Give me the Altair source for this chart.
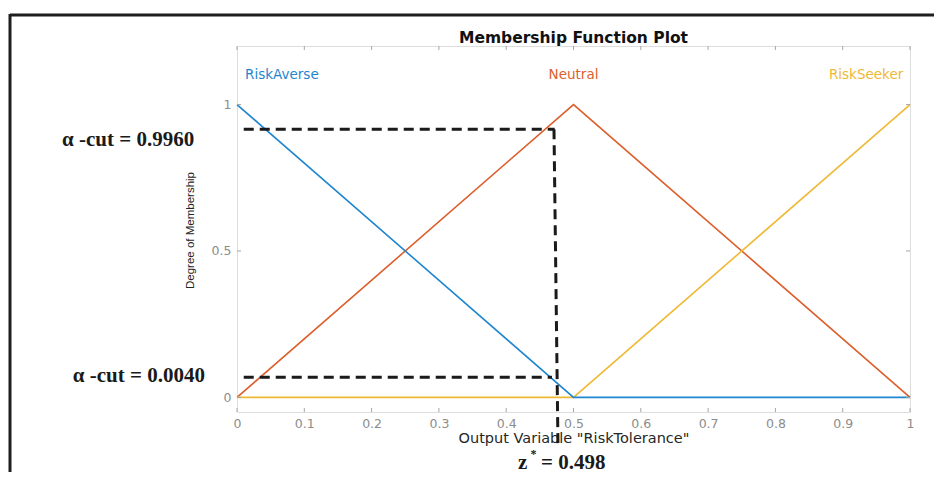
import altair as alt
import pandas as pd

# ---- data ----
mf_names = ["RiskAverse", "Neutral", "RiskSeeker"]
mf_x = [0.0, 0.5, 1.0]
risk_averse = [1.0, 0.0, 0.0]
neutral = [0.0, 1.0, 0.0]
risk_seeker = [0.0, 0.0, 1.0]
mf_colors = ["#1f86cf", "#dc5f2c", "#eeb934"]

x_ticks = [0, 0.1, 0.2, 0.3, 0.4, 0.5, 0.6, 0.7, 0.8, 0.9, 1]
y_ticks = [0, 0.5, 1]

# alpha-cut guide lines (as drawn in the picture)
cut_high_y = 0.916
cut_low_y = 0.069
guide_x_start = 0.01
cut_high_x_end = 0.472
cut_low_x_end = 0.468
z_line_top_x = 0.471
z_line_bottom_x = 0.477
z_line_bottom_y = -0.175

annotations_text = ["\u03b1 -cut = 0.9960", "\u03b1 -cut = 0.0040"]
chart_title = "Membership Function Plot"

X_DOM = [0, 1]
Y_DOM = [-0.05, 1.2]

rows = []
for name, ys in zip(mf_names, [risk_averse, neutral, risk_seeker]):
    for xv, yv in zip(mf_x, ys):
        rows.append({"mf": name, "x": xv, "y": yv})
mf_df = pd.DataFrame(rows)

xs = alt.Scale(domain=X_DOM, nice=False, zero=False)
ys_ = alt.Scale(domain=Y_DOM, nice=False, zero=False)

grey = "#a6a6a6"
label_grey = "#8c8c8c"

x_axis = alt.Axis(values=x_ticks, format="~g", grid=False, ticks=False, domain=False,
                  labelColor=label_grey, labelFont="DejaVu Sans", labelFontSize=12.5,
                  labelPadding=5, labelFlush=False, labelOverlap=False,
                  title='Output Variable "RiskTolerance"', titleFont="DejaVu Sans",
                  titleFontSize=14.5, titleFontWeight="normal", titleColor="#262626",
                  titleY=26, titleBaseline="middle")
y_axis = alt.Axis(values=y_ticks, format="~g", grid=False, ticks=False, domain=False,
                  labelColor=label_grey, labelFont="DejaVu Sans", labelFontSize=12.5,
                  labelPadding=6, labelFlush=False, labelOverlap=False,
                  title="Degree of Membership", titleFont="Liberation Sans",
                  titleFontSize=11.5, titleFontWeight="normal", titleColor="#262626",
                  titleX=-47, titleY=184, titleAngle=270, titleBaseline="middle",
                  titleAlign="center")

layers = []

# membership function lines (draw order: Neutral, RiskSeeker, RiskAverse on top)
for name in ["Neutral", "RiskSeeker", "RiskAverse"]:
    col = mf_colors[mf_names.index(name)]
    ln = alt.Chart(mf_df).transform_filter(alt.datum.mf == name).mark_line(
        color=col, strokeWidth=1.6, clip=False
    ).encode(
        x=alt.X("x:Q", scale=xs, axis=x_axis),
        y=alt.Y("y:Q", scale=ys_, axis=y_axis),
        order="x:Q",
    )
    layers.append(ln)

# MF name labels
lab_df = pd.DataFrame({
    "mf": mf_names,
    "x": [0.012, 0.5, 0.99],
    "y": [1.1, 1.1, 1.1],
    "align": ["left", "center", "right"],
})
for i, name in enumerate(mf_names):
    t = alt.Chart(lab_df.iloc[[i]]).mark_text(
        color=mf_colors[i], font="DejaVu Sans", fontSize=13.5,
        align=lab_df["align"][i], baseline="middle"
    ).encode(x=alt.X("x:Q", scale=xs), y=alt.Y("y:Q", scale=ys_), text="mf:N")
    layers.append(t)

# chart title drawn as text above the plot box
title_df = pd.DataFrame({"t": [chart_title], "x": [0.5], "y": [1.229]})
layers.append(alt.Chart(title_df).mark_text(
    font="DejaVu Sans", fontWeight="bold", fontSize=15.5, color="#111111",
    align="center", baseline="middle", clip=False
).encode(x=alt.X("x:Q", scale=xs), y=alt.Y("y:Q", scale=ys_), text="t:N"))

# inward tick marks (bottom/top for x, left/right for y)
tx = 4 / 293
ty = 4 / 673
xt_df = pd.DataFrame({"x": x_ticks})
yt_df = pd.DataFrame({"y": y_ticks})
for y0, y1 in [(Y_DOM[0], Y_DOM[0] + tx), (Y_DOM[1], Y_DOM[1] - tx)]:
    layers.append(alt.Chart(xt_df).mark_rule(color=grey, strokeWidth=1).encode(
        x=alt.X("x:Q", scale=xs), y=alt.datum(y0, scale=ys_), y2=alt.datum(y1)))
for x0, x1 in [(0, ty), (1, 1 - ty)]:
    layers.append(alt.Chart(yt_df).mark_rule(color=grey, strokeWidth=1).encode(
        y=alt.Y("y:Q", scale=ys_), x=alt.datum(x0, scale=xs), x2=alt.datum(x1)))

# dashed alpha-cut guides
guide_df = pd.DataFrame({
    "x": [guide_x_start, guide_x_start, z_line_top_x],
    "x2": [cut_high_x_end, cut_low_x_end, z_line_bottom_x],
    "y": [cut_high_y, cut_low_y, cut_high_y],
    "y2": [cut_high_y, cut_low_y, z_line_bottom_y],
})
layers.append(alt.Chart(guide_df).mark_rule(
    color="#1a1a1a", strokeWidth=3, strokeDash=[10, 6], clip=False
).encode(x=alt.X("x:Q", scale=xs), x2="x2:Q", y=alt.Y("y:Q", scale=ys_), y2="y2:Q"))

# serif annotations
ann_df = pd.DataFrame({
    "t": annotations_text + ["z", "= 0.498"],
    "x": [-0.26, -0.244, 0.4175, 0.4517],
    "y": [0.857, 0.051, -0.243, -0.243],
})
layers.append(alt.Chart(ann_df).mark_text(
    font="Liberation Serif", fontWeight="bold", fontSize=21, color="#1a1a1a",
    align="left", baseline="alphabetic", clip=False
).encode(x=alt.X("x:Q", scale=xs), y=alt.Y("y:Q", scale=ys_), text="t:N"))
star_df = pd.DataFrame({"t": ["*"], "x": [0.436], "y": [-0.207]})
layers.append(alt.Chart(star_df).mark_text(
    font="Liberation Serif", fontWeight="bold", fontSize=12, color="#1a1a1a",
    align="left", baseline="alphabetic"
).encode(x=alt.X("x:Q", scale=xs), y=alt.Y("y:Q", scale=ys_), text="t:N"))

# outer frame (decoration)
frame = [
    alt.Chart(pd.DataFrame({"k": [0]})).mark_rule(color="#1f1f1f", strokeWidth=3).encode(
        x=alt.value(-227), x2=alt.value(720), y=alt.value(-31)),
    alt.Chart(pd.DataFrame({"k": [0]})).mark_rule(color="#1f1f1f", strokeWidth=3).encode(
        x=alt.value(-227), y=alt.value(-32), y2=alt.value(460)),
]

chart = alt.layer(*layers, *frame).properties(
    width=673, height=366,
    autosize=alt.AutoSizeParams(type="none"),
    padding={"left": 229, "top": 38, "right": 24, "bottom": 60},
).configure_view(stroke=grey, strokeWidth=1.5).configure(background="white")

chart.save("out.html", embed_options={"renderer": "svg", "actions": False})
